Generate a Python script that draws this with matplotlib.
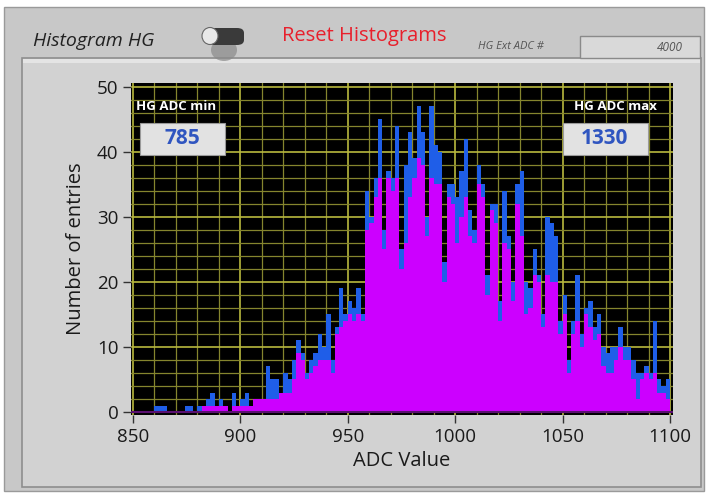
import numpy as np
import matplotlib
matplotlib.use("Agg")
import matplotlib.pyplot as plt
from matplotlib.patches import Rectangle, FancyBboxPatch, Ellipse

# ADC bins (2 counts wide), blue = fine histogram, magenta = overlay
adc_bins = np.arange(850, 1100, 2)
blue_counts = [
    0, 0, 0, 0, 0, 1, 1, 1, 0, 0, 0, 0, 1, 1, 0, 1, 1, 2, 3, 1,
    2, 1, 0, 3, 1, 2, 3, 1, 2, 2, 2, 7, 5, 5, 3, 6, 5, 8, 11, 9,
    6, 8, 9, 12, 10, 15, 8, 13, 19, 15, 17, 16, 19, 15, 34, 30, 36, 45, 28, 37,
    36, 44, 25, 38, 43, 39, 47, 43, 30, 47, 41, 40, 23, 35, 35, 33, 37, 42, 31, 28,
    38, 35, 21, 32, 32, 17, 34, 27, 20, 35, 37, 20, 19, 25, 21, 15, 30, 29, 27, 14,
    18, 8, 14, 21, 12, 16, 17, 13, 15, 10, 9, 10, 10, 13, 10, 10, 8, 6, 6, 7,
    6, 14, 5, 4, 5,
]
magenta_counts = [
    0, 0, 0, 0, 0, 0, 0, 0, 0, 0, 0, 0, 0, 0, 0, 0, 1, 1, 1, 1,
    1, 1, 0, 1, 1, 1, 1, 1, 2, 2, 2, 2, 2, 2, 3, 3, 3, 5, 9, 8,
    5, 6, 7, 8, 8, 8, 6, 12, 13, 14, 15, 14, 15, 14, 28, 29, 33, 36, 25, 36,
    34, 36, 22, 26, 33, 36, 39, 38, 27, 36, 35, 35, 20, 33, 32, 26, 30, 33, 27, 26,
    35, 33, 18, 31, 29, 14, 26, 25, 17, 32, 27, 15, 16, 21, 20, 13, 21, 20, 20, 12,
    15, 6, 12, 14, 10, 15, 13, 11, 12, 7, 6, 6, 8, 10, 8, 8, 5, 2, 5, 6,
    5, 6, 3, 3, 2,
]
x_ticks = [850, 900, 950, 1000, 1050, 1100]
y_ticks = [0, 10, 20, 30, 40, 50]

W, H = 707, 495
plt.rcParams['font.family'] = ['Open Sans', 'DejaVu Sans']
fig = plt.figure(figsize=(W / 100, H / 100), dpi=100)
fig.patch.set_facecolor('white')


def fx(x):
    return x / W


def fy(y):
    return 1 - y / H


def frect(x0, y0, x1, y1, z=-5, **kw):
    fig.patches.append(Rectangle((fx(x0), fy(y1)), fx(x1) - fx(x0), fy(y0) - fy(y1),
                                 transform=fig.transFigure, zorder=z, **kw))


# panel background and chart frame
frect(4, 7, 704, 491, facecolor='#c8c8c8', edgecolor='#9a9a9a', linewidth=1)
frect(22, 58, 701, 487, facecolor='#d2d2d2', edgecolor='#8e8e8e', linewidth=1.2)
frect(23, 59, 700, 63, facecolor='#e4e4e4', edgecolor='none')

# header
fig.text(fx(33), fy(46), 'Histogram HG', fontsize=14, style='italic', color='#222222',
         va='baseline', ha='left')
fig.text(fx(282), fy(41), 'Reset Histograms', fontsize=14.5, color='#e8202c',
         va='baseline', ha='left')
fig.text(fx(478), fy(49), 'HG Ext ADC #', fontsize=8, style='italic', color='#555555',
         va='baseline', ha='left')
frect(580, 36, 700, 58, facecolor='#d9d9d9', edgecolor='#8a8a8a', linewidth=1)
fig.text(fx(683), fy(51), '4000', fontsize=8.5, style='italic', color='#555555',
         va='baseline', ha='right')

# toggle switch
fig.patches.append(Ellipse((fx(224), fy(50)), fx(26), 22 / H, transform=fig.transFigure,
                           facecolor='#8a8a8a', edgecolor='none', alpha=0.7, zorder=-4))
fig.patches.append(FancyBboxPatch((fx(208), fy(45)), fx(36), 17 / H,
                                  boxstyle='round,pad=0,rounding_size=0.01',
                                  transform=fig.transFigure, facecolor='#3a3a3a',
                                  edgecolor='none', zorder=-3))
fig.patches.append(Ellipse((fx(210), fy(36)), fx(16), 17 / H, transform=fig.transFigure,
                           facecolor='#e8e8e8', edgecolor='#666666', linewidth=0.8, zorder=-2))

# plot area
ax = fig.add_axes([fx(131), fy(415), fx(673) - fx(131), fy(83) - fy(415)])
ax.set_facecolor('black')
ax.bar(adc_bins, blue_counts, width=2, align='edge', color='#1f5ee8', linewidth=0, zorder=3)
ax.bar(adc_bins, magenta_counts, width=2, align='edge', color='#cc00ff', linewidth=0, zorder=4)
ax.axhline(0, color='#5a1070', linewidth=1.5, zorder=5)

ax.set_xlim(849.07, 1101.4)
ax.set_ylim(-0.46, 50.6)
ax.set_xticks(x_ticks)
ax.set_yticks(y_ticks)
ax.set_xticks(np.arange(850, 1101, 10), minor=True)
ax.set_yticks(np.arange(0, 51, 2), minor=True)
ax.grid(which='minor', color='#85852e', linewidth=0.9, zorder=1)
ax.grid(which='major', color='#b8b83e', linewidth=1.2, zorder=2)
ax.set_axisbelow(True)
ax.tick_params(which='minor', length=0)
ax.tick_params(which='major', length=6, width=1, color='#333333', labelsize=13.5,
               labelcolor='#1a1a1a', pad=3)
for s in ax.spines.values():
    s.set_visible(False)

ax.set_xlabel('ADC Value', fontsize=14.5, color='#1a1a1a', labelpad=4)
ax.set_ylabel('Number of entries', fontsize=14.5, color='#1a1a1a', labelpad=8)

# min / max indicators
fig.text(fx(136), fy(106), 'HG ADC min', fontsize=9.5, weight='bold', color='white',
         va='center', ha='left', zorder=6)
frect(140, 123, 225, 155, z=5, facecolor='#e2e2e2', edgecolor='#9a9a9a', linewidth=0.8)
fig.text(fx(182), fy(139), '785', fontsize=15, weight='bold', color='#2f55c0',
         va='center', ha='center', zorder=6)
fig.text(fx(657), fy(106), 'HG ADC max', fontsize=9.5, weight='bold', color='white',
         va='center', ha='right', zorder=6)
frect(563, 123, 648, 155, z=5, facecolor='#e2e2e2', edgecolor='#9a9a9a', linewidth=0.8)
fig.text(fx(604), fy(139), '1330', fontsize=15, weight='bold', color='#2f55c0',
         va='center', ha='center', zorder=6)

fig.savefig('out.png', dpi=100, facecolor=fig.get_facecolor())
